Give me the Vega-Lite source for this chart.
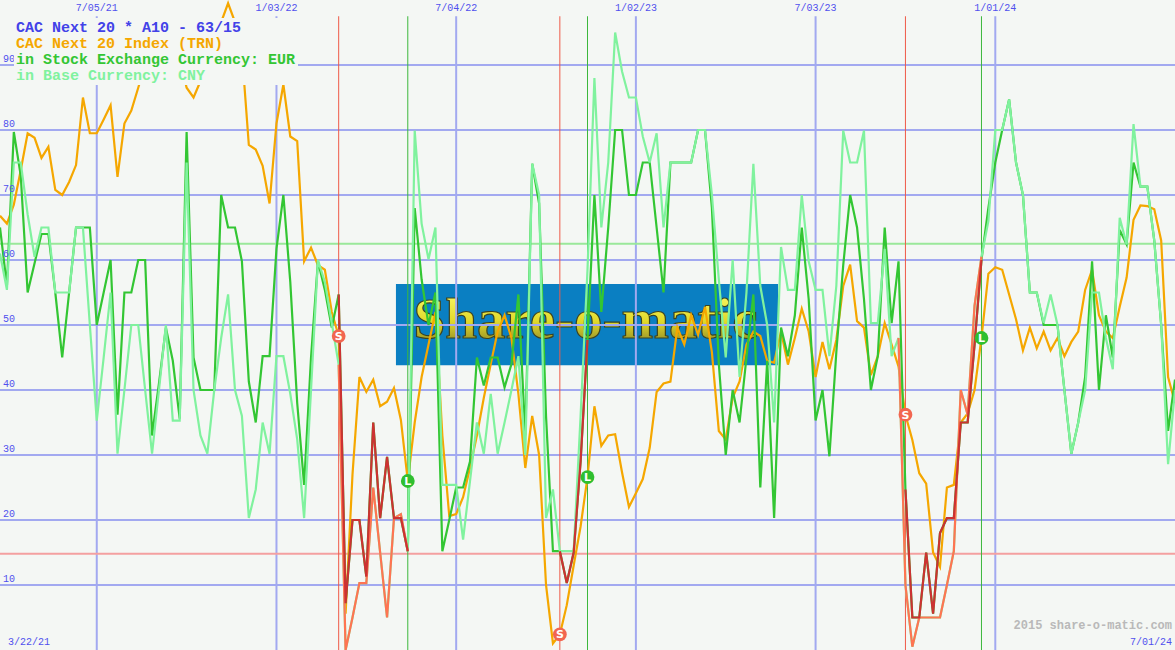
{
  "$schema": "https://vega.github.io/schema/vega-lite/v6.json",
  "width": 1175,
  "height": 650,
  "padding": 0,
  "autosize": {"type": "none"},
  "background": "#f4f7f4",
  "config": {"view": {"stroke": null}},
  "datasets": {
    "weekly": [
      {"date":"2021-03-29","trn":66.8,"eur":65,"cny":61},
      {"date":"2021-04-05","trn":65.6,"eur":56,"cny":55.4},
      {"date":"2021-04-12","trn":68.5,"eur":79.7,"cny":75},
      {"date":"2021-04-19","trn":73.8,"eur":73,"cny":75},
      {"date":"2021-04-26","trn":79.5,"eur":55,"cny":67},
      {"date":"2021-05-03","trn":78.8,"eur":59.5,"cny":60.5},
      {"date":"2021-05-10","trn":75.7,"eur":64,"cny":65},
      {"date":"2021-05-17","trn":77.4,"eur":64,"cny":65},
      {"date":"2021-05-24","trn":70.8,"eur":55,"cny":55},
      {"date":"2021-05-31","trn":70,"eur":45,"cny":55},
      {"date":"2021-06-07","trn":72,"eur":55,"cny":55},
      {"date":"2021-06-14","trn":74.6,"eur":65,"cny":65},
      {"date":"2021-06-21","trn":85,"eur":65,"cny":65},
      {"date":"2021-06-28","trn":79.5,"eur":65,"cny":50},
      {"date":"2021-07-05","trn":79.5,"eur":50,"cny":35.3},
      {"date":"2021-07-12","trn":81.6,"eur":55,"cny":45},
      {"date":"2021-07-19","trn":83.8,"eur":60,"cny":55},
      {"date":"2021-07-26","trn":72.8,"eur":36.2,"cny":30.2},
      {"date":"2021-08-02","trn":81,"eur":55,"cny":40},
      {"date":"2021-08-09","trn":83,"eur":55,"cny":50},
      {"date":"2021-08-16","trn":86.5,"eur":60,"cny":50},
      {"date":"2021-08-23","trn":90,"eur":60,"cny":40},
      {"date":"2021-08-30","trn":92,"eur":33,"cny":30.2},
      {"date":"2021-09-06","trn":94,"eur":41,"cny":40},
      {"date":"2021-09-13","trn":91,"eur":49.6,"cny":50},
      {"date":"2021-09-20","trn":93,"eur":44.5,"cny":35.3},
      {"date":"2021-09-27","trn":91,"eur":35.6,"cny":35.3},
      {"date":"2021-10-04","trn":86.5,"eur":79.7,"cny":75},
      {"date":"2021-10-11","trn":85,"eur":45,"cny":40},
      {"date":"2021-10-18","trn":87.5,"eur":40,"cny":33},
      {"date":"2021-10-25","trn":91,"eur":40,"cny":30.2},
      {"date":"2021-11-01","trn":93,"eur":40,"cny":40},
      {"date":"2021-11-08","trn":96.6,"eur":70,"cny":48},
      {"date":"2021-11-15","trn":99.5,"eur":65,"cny":54.7},
      {"date":"2021-11-22","trn":96.6,"eur":65,"cny":40},
      {"date":"2021-11-29","trn":92,"eur":59.8,"cny":36},
      {"date":"2021-12-06","trn":77.7,"eur":41.3,"cny":20.3},
      {"date":"2021-12-13","trn":77,"eur":35,"cny":24.7},
      {"date":"2021-12-20","trn":74.5,"eur":45.2,"cny":35},
      {"date":"2021-12-27","trn":68.7,"eur":45.2,"cny":30.2},
      {"date":"2022-01-03","trn":81,"eur":61.7,"cny":45.2},
      {"date":"2022-01-10","trn":87,"eur":70,"cny":45.2},
      {"date":"2022-01-17","trn":79,"eur":56.6,"cny":39.4},
      {"date":"2022-01-24","trn":78.3,"eur":38,"cny":32.4},
      {"date":"2022-01-31","trn":59.8,"eur":25.4,"cny":20.3},
      {"date":"2022-02-07","trn":61.9,"eur":45,"cny":40},
      {"date":"2022-02-14","trn":59.2,"eur":59.8,"cny":60},
      {"date":"2022-02-21","trn":58.5,"eur":55.4,"cny":56.6},
      {"date":"2022-02-28","trn":52,"eur":49.6,"cny":50.3},
      {"date":"2022-03-07","trn":48.3,"eur":54.7,"cny":43.9,"eurSig":"s1","cnySig":"s1"},
      {"date":"2022-03-14","trn":5.6,"eur":7.2,"cny":0,"eurSig":"s1","cnySig":"s1"},
      {"date":"2022-03-21","trn":27,"eur":20,"cny":5,"eurSig":"s1","cnySig":"s1"},
      {"date":"2022-03-28","trn":42,"eur":20,"cny":10.3,"eurSig":"s1","cnySig":"s1"},
      {"date":"2022-04-04","trn":39.7,"eur":11.3,"cny":10.3,"eurSig":"s1","cnySig":"s1"},
      {"date":"2022-04-11","trn":41.6,"eur":35,"cny":25,"eurSig":"s1","cnySig":"s1"},
      {"date":"2022-04-18","trn":37.5,"eur":20.3,"cny":15,"eurSig":"s1","cnySig":"s1"},
      {"date":"2022-04-25","trn":38.2,"eur":29.7,"cny":5,"eurSig":"s1","cnySig":"s1"},
      {"date":"2022-05-02","trn":40.3,"eur":20.3,"cny":20.3,"eurSig":"s1","cnySig":"s1"},
      {"date":"2022-05-09","trn":35.4,"eur":20.3,"cny":20.9,"eurSig":"s1","cnySig":"s1"},
      {"date":"2022-05-16","trn":26,"eur":15.2,"cny":15.2,"eurSig":"s1","cnySig":"s1"},
      {"date":"2022-05-23","trn":35,"eur":68,"cny":79.9},
      {"date":"2022-05-30","trn":42,"eur":57,"cny":65.6},
      {"date":"2022-06-06","trn":47,"eur":50,"cny":60.1},
      {"date":"2022-06-13","trn":52,"eur":55,"cny":65},
      {"date":"2022-06-20","trn":33,"eur":15.2,"cny":25.4},
      {"date":"2022-06-27","trn":20.6,"eur":20,"cny":25.4},
      {"date":"2022-07-04","trn":20.9,"eur":25,"cny":25.4},
      {"date":"2022-07-11","trn":23.5,"eur":25,"cny":17},
      {"date":"2022-07-18","trn":28,"eur":29,"cny":26},
      {"date":"2022-07-25","trn":33,"eur":45,"cny":35},
      {"date":"2022-08-01","trn":38.8,"eur":40.7,"cny":30.2},
      {"date":"2022-08-08","trn":44,"eur":45,"cny":39.4},
      {"date":"2022-08-15","trn":49,"eur":45,"cny":30.2},
      {"date":"2022-08-22","trn":51.5,"eur":40.4,"cny":35},
      {"date":"2022-08-29","trn":48,"eur":44,"cny":40},
      {"date":"2022-09-05","trn":39.4,"eur":54.7,"cny":45.2},
      {"date":"2022-09-12","trn":28,"eur":33,"cny":30},
      {"date":"2022-09-19","trn":36,"eur":74.8,"cny":74.8},
      {"date":"2022-09-26","trn":30,"eur":68.7,"cny":70},
      {"date":"2022-10-03","trn":10,"eur":36,"cny":20.3},
      {"date":"2022-10-10","trn":1,"eur":15.2,"cny":24.7},
      {"date":"2022-10-17","trn":2.4,"eur":15.2,"cny":15.2,"eurSig":"s2"},
      {"date":"2022-10-24","trn":6.9,"eur":10.3,"cny":15.2,"eurSig":"s2"},
      {"date":"2022-10-31","trn":13,"eur":15,"cny":15.2,"eurSig":"s2"},
      {"date":"2022-11-07","trn":19,"eur":29,"cny":36,"eurSig":"s2"},
      {"date":"2022-11-14","trn":26.6,"eur":47.7,"cny":58.5,"eurSig":"s2"},
      {"date":"2022-11-21","trn":37.5,"eur":70,"cny":88},
      {"date":"2022-11-28","trn":31.4,"eur":52,"cny":65},
      {"date":"2022-12-05","trn":33,"eur":65,"cny":75},
      {"date":"2022-12-12","trn":33.2,"eur":80,"cny":95},
      {"date":"2022-12-19","trn":27.3,"eur":80,"cny":89},
      {"date":"2022-12-26","trn":22,"eur":70,"cny":85},
      {"date":"2023-01-02","trn":24.1,"eur":70,"cny":85},
      {"date":"2023-01-09","trn":26.3,"eur":75,"cny":79},
      {"date":"2023-01-16","trn":31.1,"eur":75,"cny":75},
      {"date":"2023-01-23","trn":39.7,"eur":65,"cny":79.5},
      {"date":"2023-01-30","trn":41,"eur":55,"cny":65},
      {"date":"2023-02-06","trn":41.3,"eur":75,"cny":75},
      {"date":"2023-02-13","trn":49.6,"eur":75,"cny":75},
      {"date":"2023-02-20","trn":47,"eur":75,"cny":75},
      {"date":"2023-02-27","trn":51.5,"eur":75,"cny":75},
      {"date":"2023-03-06","trn":48.5,"eur":80,"cny":80},
      {"date":"2023-03-13","trn":52.8,"eur":80,"cny":80},
      {"date":"2023-03-20","trn":45.8,"eur":68,"cny":70},
      {"date":"2023-03-27","trn":33.7,"eur":44,"cny":57},
      {"date":"2023-04-03","trn":32.4,"eur":30,"cny":45},
      {"date":"2023-04-10","trn":38.8,"eur":40,"cny":60},
      {"date":"2023-04-17","trn":41.3,"eur":35,"cny":42},
      {"date":"2023-04-24","trn":47,"eur":45,"cny":55},
      {"date":"2023-05-01","trn":49,"eur":54.7,"cny":74.8},
      {"date":"2023-05-08","trn":48.3,"eur":25,"cny":56},
      {"date":"2023-05-15","trn":44.5,"eur":44.5,"cny":50},
      {"date":"2023-05-22","trn":44.2,"eur":20.3,"cny":35},
      {"date":"2023-05-29","trn":49,"eur":49.6,"cny":62},
      {"date":"2023-06-05","trn":43.9,"eur":45.2,"cny":55.4},
      {"date":"2023-06-12","trn":48,"eur":51.5,"cny":55.4},
      {"date":"2023-06-19","trn":52.5,"eur":65,"cny":70},
      {"date":"2023-06-26","trn":49,"eur":54,"cny":59.8},
      {"date":"2023-07-03","trn":42,"eur":35.3,"cny":55.4},
      {"date":"2023-07-10","trn":47.4,"eur":40,"cny":55.4},
      {"date":"2023-07-17","trn":43.2,"eur":29.8,"cny":45.2},
      {"date":"2023-07-24","trn":47.7,"eur":45.8,"cny":56},
      {"date":"2023-07-31","trn":56,"eur":59.2,"cny":79.9},
      {"date":"2023-08-07","trn":59.3,"eur":70,"cny":75},
      {"date":"2023-08-14","trn":50.6,"eur":65,"cny":75},
      {"date":"2023-08-21","trn":49.6,"eur":54,"cny":79.9},
      {"date":"2023-08-28","trn":42.3,"eur":40,"cny":50.3},
      {"date":"2023-09-04","trn":45.2,"eur":45.2,"cny":50.3},
      {"date":"2023-09-11","trn":50.3,"eur":65,"cny":61.7},
      {"date":"2023-09-18","trn":47,"eur":50.3,"cny":45.2},
      {"date":"2023-09-25","trn":43.6,"eur":59.8,"cny":48,"cnySig":"s3"},
      {"date":"2023-10-02","trn":36.2,"eur":24.7,"cny":10,"eurSig":"s3","cnySig":"s3"},
      {"date":"2023-10-09","trn":32.3,"eur":5,"cny":0.5,"eurSig":"s3","cnySig":"s3"},
      {"date":"2023-10-16","trn":27.2,"eur":5,"cny":5,"eurSig":"s3","cnySig":"s3"},
      {"date":"2023-10-23","trn":25.6,"eur":15,"cny":5,"eurSig":"s3","cnySig":"s3"},
      {"date":"2023-10-30","trn":15,"eur":5.6,"cny":5,"eurSig":"s3","cnySig":"s3"},
      {"date":"2023-11-06","trn":12.8,"eur":18,"cny":5,"eurSig":"s3","cnySig":"s3"},
      {"date":"2023-11-13","trn":25,"eur":20.3,"cny":10,"eurSig":"s3","cnySig":"s3"},
      {"date":"2023-11-20","trn":25.4,"eur":20.3,"cny":15.2,"eurSig":"s3","cnySig":"s3"},
      {"date":"2023-11-27","trn":35,"eur":35,"cny":40,"eurSig":"s3","cnySig":"s3"},
      {"date":"2023-12-04","trn":36.4,"eur":35,"cny":36.2,"eurSig":"s3","cnySig":"s3"},
      {"date":"2023-12-11","trn":40,"eur":47,"cny":53,"eurSig":"s3","cnySig":"s3"},
      {"date":"2023-12-18","trn":48,"eur":60,"cny":60.5,"eurSig":"s3","cnySig":"s3"},
      {"date":"2023-12-25","trn":57.9,"eur":68,"cny":66},
      {"date":"2024-01-01","trn":58.9,"eur":75,"cny":80},
      {"date":"2024-01-08","trn":58.5,"eur":80,"cny":80},
      {"date":"2024-01-15","trn":54.7,"eur":84.7,"cny":84.7},
      {"date":"2024-01-22","trn":50.9,"eur":75,"cny":75},
      {"date":"2024-01-29","trn":46.1,"eur":70,"cny":70},
      {"date":"2024-02-05","trn":49.6,"eur":55,"cny":55},
      {"date":"2024-02-12","trn":46.4,"eur":55,"cny":55},
      {"date":"2024-02-19","trn":49,"eur":50,"cny":50.3},
      {"date":"2024-02-26","trn":46.1,"eur":50,"cny":54.7},
      {"date":"2024-03-04","trn":48,"eur":50,"cny":50},
      {"date":"2024-03-11","trn":45.2,"eur":40,"cny":40},
      {"date":"2024-03-18","trn":47.4,"eur":30.2,"cny":30.2},
      {"date":"2024-03-25","trn":49,"eur":35,"cny":35},
      {"date":"2024-04-01","trn":55.4,"eur":42,"cny":40},
      {"date":"2024-04-08","trn":58.5,"eur":59.8,"cny":55},
      {"date":"2024-04-15","trn":51.5,"eur":40,"cny":55},
      {"date":"2024-04-22","trn":49,"eur":51.5,"cny":48},
      {"date":"2024-04-29","trn":48,"eur":45,"cny":43.2},
      {"date":"2024-05-06","trn":52.8,"eur":64.6,"cny":66.5},
      {"date":"2024-05-13","trn":57.3,"eur":62.4,"cny":62.4},
      {"date":"2024-05-20","trn":66.2,"eur":75,"cny":80.9},
      {"date":"2024-05-27","trn":68.4,"eur":71.3,"cny":71.3},
      {"date":"2024-06-03","trn":68.3,"eur":71.3,"cny":71.3},
      {"date":"2024-06-10","trn":67.8,"eur":63,"cny":63},
      {"date":"2024-06-17","trn":63,"eur":50,"cny":50},
      {"date":"2024-06-24","trn":42,"eur":33.7,"cny":28.6},
      {"date":"2024-07-01","trn":38,"eur":41.6,"cny":40}
    ],
    "signals": [
      {"date":"2022-03-07","value":48.3,"type":"S"},
      {"date":"2022-05-16","value":26,"type":"L"},
      {"date":"2022-10-17","value":2.4,"type":"S"},
      {"date":"2022-11-14","value":26.6,"type":"L"},
      {"date":"2023-10-02","value":36.2,"type":"S"},
      {"date":"2023-12-18","value":48,"type":"L"}
    ],
    "gridY": [{"v":10},{"v":20},{"v":30},{"v":40},{"v":50},{"v":60},{"v":70},{"v":80},{"v":90}],
    "gridX": [
      {"date":"2021-07-05","label":"7/05/21"},
      {"date":"2022-01-03","label":"1/03/22"},
      {"date":"2022-07-04","label":"7/04/22"},
      {"date":"2023-01-02","label":"1/02/23"},
      {"date":"2023-07-03","label":"7/03/23"},
      {"date":"2024-01-01","label":"1/01/24"}
    ]
  },
  "layer": [
    {
      "data": {"values": [{}]},
      "mark": {"type": "rect", "color": "#0a7fc2"},
      "encoding": {
        "x": {"datum": {"year":2022,"month":5,"date":4,"utc":true}, "type": "temporal",
              "scale": {"type":"utc","domain":[{"year":2021,"month":3,"date":29,"utc":true},{"year":2024,"month":7,"date":1,"utc":true}]}, "axis": null},
        "x2": {"datum": {"year":2023,"month":5,"date":26,"utc":true}},
        "y": {"datum": 56.3, "type": "quantitative", "scale": {"domain":[0,100],"nice":false,"zero":false}, "axis": null},
        "y2": {"datum": 43.8}
      }
    },
    {
      "data": {"values": [{}]},
      "mark": {"type": "text", "text": "Share-o-matic", "font": "Liberation Serif", "fontSize": 57, "fontWeight": "bold", "align": "center", "baseline": "middle",
               "stroke": "#3b4322", "strokeWidth": 1.2,
               "fill": {"gradient": "linear", "x1": 0, "y1": 0, "x2": 0, "y2": 1, "stops": [{"offset": 0, "color": "#ffff70"}, {"offset": 0.55, "color": "#e0d82a"}, {"offset": 1, "color": "#7a7628"}]}},
      "encoding": {
        "x": {"datum": {"year":2022,"month":11,"date":12,"utc":true}, "type": "temporal"},
        "y": {"datum": 50.6, "type": "quantitative"}
      }
    },
    {
      "data": {"name": "gridY"},
      "mark": {"type": "rule", "color": "#a2a9f0", "strokeWidth": 2},
      "encoding": {"y": {"field": "v", "type": "quantitative"}}
    },
    {
      "data": {"name": "gridX"},
      "mark": {"type": "rule", "color": "#a2a9f0", "strokeWidth": 2},
      "encoding": {
        "x": {"field": "date", "type": "temporal"},
        "y": {"datum": 97.5, "type": "quantitative"},
        "y2": {"datum": 0}
      }
    },
    {
      "data": {"values": [{}]},
      "mark": {"type": "rule", "color": "#9ae89a", "strokeWidth": 2},
      "encoding": {"y": {"datum": 62.5, "type": "quantitative"}}
    },
    {
      "data": {"values": [{}]},
      "mark": {"type": "rule", "color": "#f4a0a0", "strokeWidth": 2},
      "encoding": {"y": {"datum": 14.8, "type": "quantitative"}}
    },
    {
      "data": {"name": "signals"},
      "mark": {"type": "rule", "strokeWidth": 1},
      "encoding": {
        "x": {"field": "date", "type": "temporal"},
        "y": {"datum": 97.5, "type": "quantitative"},
        "y2": {"datum": 0},
        "stroke": {"field": "type", "type": "nominal", "scale": {"domain": ["S","L"], "range": ["#ee5a48","#3cb83c"]}, "legend": null}
      }
    },
    {
      "data": {"name": "weekly"},
      "transform": [{"fold": ["trn","eur","cny"], "as": ["series","value"]}],
      "mark": {"type": "line", "strokeWidth": 2.2},
      "encoding": {
        "x": {"field": "date", "type": "temporal"},
        "y": {"field": "value", "type": "quantitative"},
        "color": {
          "field": "series", "type": "nominal",
          "scale": {"domain": ["trn","eur","cny"], "range": ["#f5a700","#33c633","#80f29e"]},
          "legend": {
            "orient": "none", "legendX": 14, "legendY": 18,
            "values": ["trn","eur","cny"],
            "title": "CAC Next 20 * A10 - 63/15",
            "titleColor": "#4242e8", "titleFont": "Liberation Mono", "titleFontSize": 15, "titleFontWeight": "bold",
            "titleLimit": 500, "titlePadding": 0,
            "labelFont": "Liberation Mono", "labelFontSize": 15, "labelFontWeight": "bold", "labelLimit": 500,
            "labelExpr": "datum.value == 'trn' ? 'CAC Next 20 Index (TRN)' : datum.value == 'eur' ? 'in Stock Exchange Currency: EUR' : 'in Base Currency: CNY'",
            "symbolSize": 0, "symbolOpacity": 0, "symbolStrokeWidth": 0, "labelOffset": -15,
            "rowPadding": 0, "padding": 2, "fillColor": "#f4f7f4", "zindex": 1,
            "encode": {"labels": {"update": {"fill": {"scale": "color", "field": "value"}}}}
          }
        }
      }
    },
    {
      "data": {"name": "weekly"},
      "transform": [{"filter": "isValid(datum.cnySig)"}],
      "mark": {"type": "line", "strokeWidth": 2.2, "color": "#ff7452"},
      "encoding": {
        "x": {"field": "date", "type": "temporal"},
        "y": {"field": "cny", "type": "quantitative"},
        "detail": {"field": "cnySig", "type": "nominal"}
      }
    },
    {
      "data": {"name": "weekly"},
      "transform": [{"filter": "isValid(datum.eurSig)"}],
      "mark": {"type": "line", "strokeWidth": 2.2, "color": "#cc3232"},
      "encoding": {
        "x": {"field": "date", "type": "temporal"},
        "y": {"field": "eur", "type": "quantitative"},
        "detail": {"field": "eurSig", "type": "nominal"}
      }
    },
    {
      "data": {"name": "signals"},
      "mark": {"type": "point", "filled": true, "size": 190, "opacity": 1, "shape": "circle"},
      "encoding": {
        "x": {"field": "date", "type": "temporal"},
        "y": {"field": "value", "type": "quantitative"},
        "fill": {"field": "type", "type": "nominal", "scale": {"domain": ["S","L"], "range": ["#f26650","#2fbf2f"]}, "legend": null}
      }
    },
    {
      "data": {"name": "signals"},
      "mark": {"type": "text", "color": "white", "font": "DejaVu Sans", "fontSize": 11, "fontWeight": "bold", "align": "center", "baseline": "middle", "dy": 1},
      "encoding": {
        "x": {"field": "date", "type": "temporal"},
        "y": {"field": "value", "type": "quantitative"},
        "text": {"field": "type", "type": "nominal"}
      }
    },
    {
      "data": {"name": "gridY"},
      "mark": {"type": "text", "color": "#5050ee", "font": "Liberation Mono", "fontSize": 10, "align": "left", "baseline": "bottom", "dx": 3, "dy": -1},
      "encoding": {
        "x": {"datum": {"year":2021,"month":3,"date":29,"utc":true}, "type": "temporal"},
        "y": {"field": "v", "type": "quantitative"},
        "text": {"field": "v", "type": "quantitative", "format": "d"}
      }
    },
    {
      "data": {"name": "gridX"},
      "mark": {"type": "text", "color": "#5050ee", "font": "Liberation Mono", "fontSize": 10, "align": "center", "baseline": "middle"},
      "encoding": {
        "x": {"field": "date", "type": "temporal"},
        "y": {"datum": 98.8, "type": "quantitative"},
        "text": {"field": "label", "type": "nominal"}
      }
    },
    {
      "data": {"values": [{}]},
      "mark": {"type": "text", "text": "3/22/21", "color": "#5050ee", "font": "Liberation Mono", "fontSize": 10, "align": "left", "baseline": "middle", "dx": 8},
      "encoding": {
        "x": {"datum": {"year":2021,"month":3,"date":29,"utc":true}, "type": "temporal"},
        "y": {"datum": 1.2, "type": "quantitative"}
      }
    },
    {
      "data": {"values": [{}]},
      "mark": {"type": "text", "text": "7/01/24", "color": "#5050ee", "font": "Liberation Mono", "fontSize": 10, "align": "right", "baseline": "middle", "dx": -3},
      "encoding": {
        "x": {"datum": {"year":2024,"month":7,"date":1,"utc":true}, "type": "temporal"},
        "y": {"datum": 1.2, "type": "quantitative"}
      }
    },
    {
      "data": {"values": [{}]},
      "mark": {"type": "text", "text": "2015 share-o-matic.com", "color": "#b9b9b9", "font": "Liberation Mono", "fontSize": 12, "fontWeight": "bold", "align": "right", "baseline": "middle", "dx": -3},
      "encoding": {
        "x": {"datum": {"year":2024,"month":7,"date":1,"utc":true}, "type": "temporal"},
        "y": {"datum": 3.85, "type": "quantitative"}
      }
    }
  ]
}
